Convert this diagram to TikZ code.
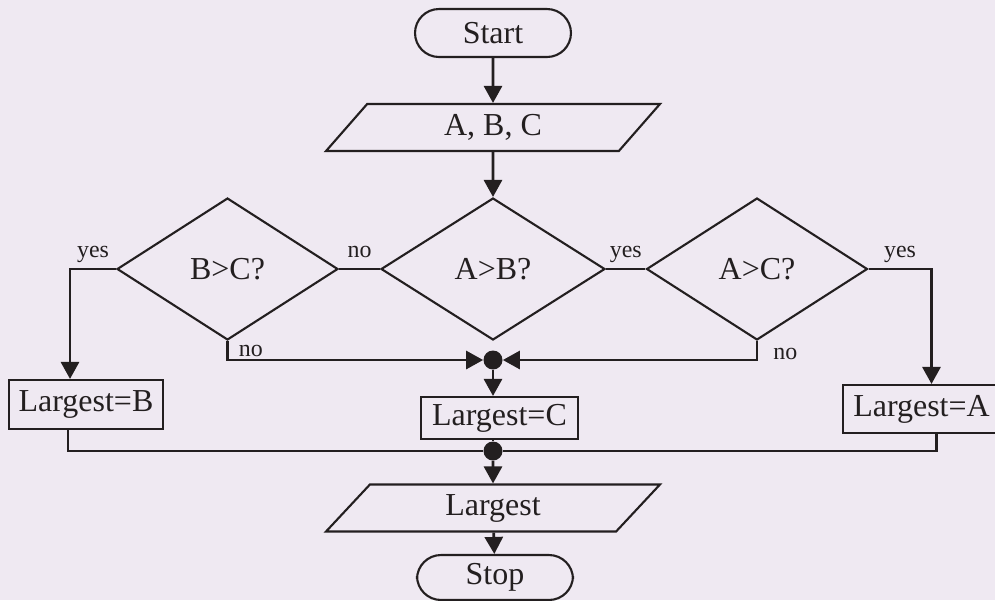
\documentclass[tikz,border=0pt]{standalone}
\usepackage{fontspec}
\setmainfont{Liberation Serif}
\usetikzlibrary{
    positioning,
    shapes.geometric,
    arrows.meta,
    calc
}
\definecolor{paper}{RGB}{239, 233, 242}
\definecolor{ink}{RGB}{35, 31, 32}

\begin{document}
\begin{tikzpicture}[
    x=0.02cm, y=-0.02cm,
    every node/.style={font=\fontsize{18.2}{20}\selectfont, text=ink},
    terminal/.style={rectangle, draw=ink, rounded corners=0.48cm, line width=1.2pt,
                     minimum width=3.12cm, minimum height=0.96cm, inner sep=0pt},
    iobox/.style={trapezium, trapezium left angle=32.4, trapezium right angle=147.6,
                  trapezium stretches body, draw=ink, line width=1.2pt,
                  minimum width=6.68cm, minimum height=0.94cm, inner sep=0pt},
    decision/.style={diamond, draw=ink, line width=1.2pt,
                     minimum width=4.42cm, minimum height=2.84cm, inner sep=0pt},
    process/.style={rectangle, draw=ink, line width=1.2pt,
                    minimum width=3.1cm, minimum height=0.96cm, inner sep=0pt},
    junction/.style={circle, fill=ink, minimum size=0.38cm, inner sep=0pt},
    answer/.style={font=\fontsize{13.6}{14}\selectfont, inner sep=0pt, text depth=0pt},
    link/.style={draw=ink, line width=1.6pt},
    flow/.style={link, -{Triangle[length=0.34cm, width=0.36cm]}}
]

% Page
\fill[paper] (0,0) rectangle (995,600);
\useasboundingbox (0,0) rectangle (995,600);

% ============================================
% MAIN COLUMN
% ============================================
\node[terminal] (start) at (493,33) {Start};
\node[iobox] (abc) at (493,127.5) {A, B, C};

% Decisions
\node[decision, minimum width=4.48cm] (ab) at (493,269) {A>B?};
\node[decision] (bc) at (227.5,269) {B>C?};
\node[decision] (ac) at (757,269) {A>C?};

% Results
\node[junction] (merge) at (493,360) {};
\node[process, minimum width=3.08cm, minimum height=0.98cm] (lb) at (86,404.5) {Largest=B};
\node[process, minimum width=3.14cm, minimum height=0.84cm] (lc) at (499.5,418) {Largest=C};
\node[process, minimum width=3.14cm] (la) at (921.5,409) {Largest=A};

% Output
\node[junction] (join) at (493,451) {};
\node[iobox] (out) at (493,508) {Largest};
\node[terminal, minimum height=0.9cm] (stop) at (495,577.5) {Stop};

% ============================================
% CONNECTORS
% ============================================
\draw[flow] (start) -- (abc);
\draw[flow] (abc) -- (ab);

\draw[link] (ab.west) -- node[answer, above=0.2cm] {no} (bc.east);
\draw[link] (ab.east) -- node[answer, above=0.2cm] {yes} (ac.west);

\draw[flow] (bc.west) -| node[answer, pos=0.25, above=0.2cm] {yes} ([xshift=-0.32cm]lb.north);
\draw[flow] (ac.east) -| node[answer, pos=0.25, above=0.2cm] {yes} ([xshift=0.2cm]la.north);

\draw[flow] (bc.south) |- node[answer, pos=0.25, right=0.2cm] {no} (merge);
\draw[flow] (ac.south) |- node[answer, pos=0.25, right=0.3cm, yshift=-0.06cm] {no} (merge);

\draw[flow] (merge) -- (merge |- lc.north);

\draw[link] (lc.south -| join) -- (join);
\draw[link] ([xshift=-0.36cm]lb.south) |- (join);
\draw[link] ([xshift=0.3cm]la.south) |- (join);

\draw[flow] (join) -- (out);
\draw[flow] (out) -- (stop);

\end{tikzpicture}
\end{document}
